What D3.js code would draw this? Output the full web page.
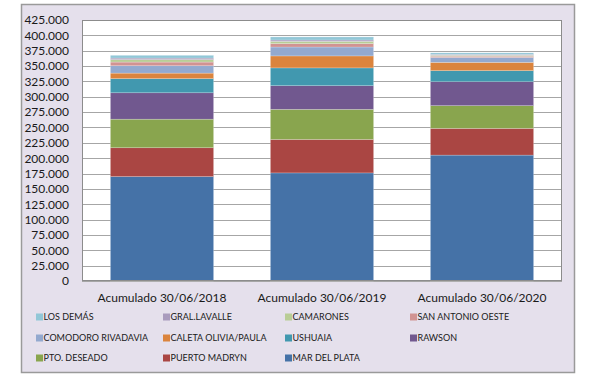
<!DOCTYPE html>
<html><head><meta charset="utf-8">
<script src="https://cdn.jsdelivr.net/npm/d3@7/dist/d3.min.js"></script>
<style>body{margin:0;background:#fff}svg{display:block}text{font-family:Lato,"Open Sans",sans-serif}</style>
</head><body><svg id="c" width="590" height="377"></svg>
<script>
const categories = ["Acumulado 30/06/2018","Acumulado 30/06/2019","Acumulado 30/06/2020"];
// stacked bottom to top
const seriesNames = ["MAR DEL PLATA","PUERTO MADRYN","PTO. DESEADO","RAWSON","USHUAIA","CALETA OLIVIA/PAULA","COMODORO RIVADAVIA","SAN ANTONIO OESTE","CAMARONES","GRAL.LAVALLE","LOS DEMÁS"];
const marDelPlata   = [170000, 176000, 205000];
const puertoMadryn  = [47000, 54500, 43500];
const ptoDeseado    = [46500, 49000, 37000];
const rawson        = [43000, 38500, 39000];
const ushuaia       = [23000, 29000, 18000];
const caletaOlivia  = [9000, 19500, 13500];
const comodoro      = [12000, 14500, 8000];
const sanAntonio    = [6000, 5500, 2000];
const camarones     = [4000, 3700, 1500];
const gralLavalle   = [2500, 2200, 1500];
const losDemas      = [4500, 5000, 2500];
const seriesValues = [marDelPlata,puertoMadryn,ptoDeseado,rawson,ushuaia,caletaOlivia,comodoro,sanAntonio,camarones,gralLavalle,losDemas];
const colors = ["#4572A7","#AA4643","#89A54E","#71588F","#4198AF","#DB843D","#93A9CF","#D19392","#B9CD96","#A99BBD","#92C7D7"];
const yTicks = d3.range(0, 425001, 25000);
const legendOrder = ["LOS DEMÁS","GRAL.LAVALLE","CAMARONES","SAN ANTONIO OESTE","COMODORO RIVADAVIA","CALETA OLIVIA/PAULA","USHUAIA","RAWSON","PTO. DESEADO","PUERTO MADRYN","MAR DEL PLATA"];

const svg = d3.select("#c");
svg.append("rect").attr("x",21.5).attr("y",4.5).attr("width",553).attr("height",368)
  .attr("fill","#E5E0EC").attr("stroke","#9a9a9a").attr("stroke-width",1.5);

const L=82, R=562, T=20, B=281;
svg.append("rect").attr("x",L).attr("y",T).attr("width",R-L).attr("height",B-T).attr("fill","#fff");

const x = d3.scaleBand().domain(categories).range([L,R]).paddingInner(0.355).paddingOuter(0.1775);
const y = d3.scaleLinear().domain([0,425000]).range([B,T]);

// gridlines
svg.append("g").selectAll("line").data(yTicks).join("line")
  .attr("x1",L).attr("x2",R).attr("y1",d=>Math.round(y(d))+0.5).attr("y2",d=>Math.round(y(d))+0.5)
  .attr("stroke","#a6a6a6").attr("stroke-width",1);

const table = categories.map((c,i)=>{const o={cat:c};seriesNames.forEach((s,j)=>o[s]=seriesValues[j][i]);return o;});
const stack = d3.stack().keys(seriesNames)(table);
svg.append("g").selectAll("g").data(stack).join("g").attr("fill",(d,i)=>colors[i])
  .selectAll("rect").data(d=>d).join("rect")
  .attr("x",d=>x(d.data.cat)).attr("width",x.bandwidth())
  .attr("y",d=>y(d[1])).attr("height",d=>y(d[0])-y(d[1]))
  .attr("stroke","#ffffff").attr("stroke-opacity",0.35).attr("stroke-width",0.6);

svg.append("rect").attr("x",L+0.5).attr("y",T+0.5).attr("width",R-L-1).attr("height",B-T-1)
  .attr("fill","none").attr("stroke","#8c8c8c").attr("stroke-width",1);

// y axis
const fmt = d => d===0 ? "0" : d3.format(",")(d).replace(/,/g,".");
const ya = svg.append("g").attr("transform",`translate(${L},0)`)
  .call(d3.axisLeft(y).tickValues(yTicks).tickFormat(fmt).tickSize(0).tickPadding(13));
ya.select(".domain").remove();
ya.selectAll("text").attr("font-size",12).attr("fill","#1a1a1a").style("font-family","Lato, sans-serif");

// x axis
const xa = svg.append("g").attr("transform",`translate(0,${B})`)
  .call(d3.axisBottom(x).tickSize(0).tickPadding(12));
xa.select(".domain").remove();
xa.selectAll("text").attr("font-size",12).attr("fill","#1a1a1a").style("font-family","Lato, sans-serif");

// legend
const colX=[36,163,285,410], rowY=[317,338,358];
const lg = svg.append("g");
legendOrder.forEach((name,i)=>{
  const cx=colX[i%4], cy=rowY[Math.floor(i/4)];
  const g=lg.append("g").attr("transform",`translate(${cx},${cy})`);
  g.append("rect").attr("x",0).attr("y",-3.5).attr("width",7).attr("height",7).attr("fill",colors[seriesNames.indexOf(name)]);
  g.append("text").attr("x",7.5).attr("y",0).attr("dy","0.35em").attr("font-size",9).attr("fill","#1a1a1a").text(name);
});
</script></body></html>
